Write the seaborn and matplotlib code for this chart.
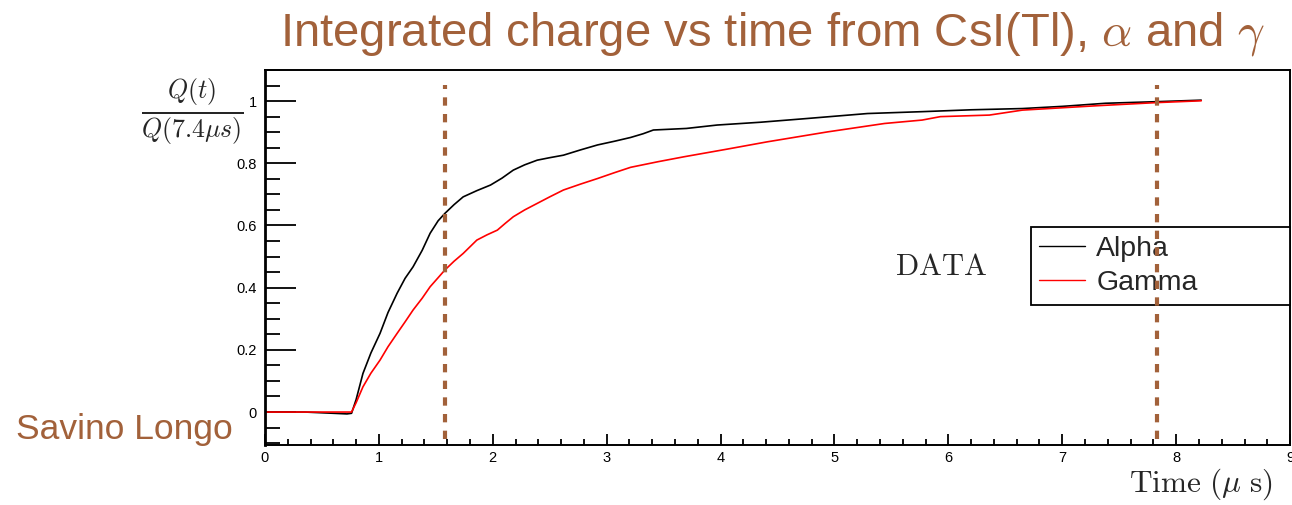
import numpy as np
import pandas as pd
import matplotlib
matplotlib.use("Agg")
import matplotlib.pyplot as plt
from matplotlib.ticker import MultipleLocator
from matplotlib.lines import Line2D
import seaborn as sns

# Integrated charge, normalised to Q(7.4 us), read along each pulse
alpha_t = [0.00, 0.35, 0.60, 0.72, 0.76, 0.80, 0.86, 0.93, 1.01, 1.08, 1.16, 1.23,
           1.30, 1.38, 1.45, 1.52, 1.58, 1.66, 1.74, 1.86, 1.98, 2.08, 2.18, 2.28,
           2.39, 2.50, 2.62, 2.77, 2.92, 3.07, 3.21, 3.32, 3.41, 3.70, 3.97, 4.35,
           4.76, 5.29, 5.77, 6.20, 6.65, 7.00, 7.38, 7.82, 8.22]
alpha_q = [0.000, 0.000, -0.004, -0.006, -0.004, 0.040, 0.124, 0.190, 0.253, 0.320,
           0.382, 0.430, 0.467, 0.520, 0.575, 0.615, 0.639, 0.667, 0.692, 0.712,
           0.730, 0.752, 0.778, 0.795, 0.810, 0.818, 0.826, 0.843, 0.859, 0.871,
           0.883, 0.895, 0.907, 0.912, 0.923, 0.932, 0.944, 0.960, 0.966, 0.972,
           0.976, 0.983, 0.993, 0.998, 1.003]

gamma_t = [0.00, 0.76, 0.80, 0.86, 0.93, 1.01, 1.08, 1.16, 1.23, 1.30, 1.38, 1.45,
           1.52, 1.58, 1.66, 1.74, 1.86, 1.95, 2.04, 2.11, 2.18, 2.28, 2.39, 2.50,
           2.62, 2.77, 2.92, 3.07, 3.21, 3.45, 3.68, 4.05, 4.41, 4.94, 5.44, 5.77,
           5.93, 6.36, 6.65, 7.30, 7.82, 8.22]
gamma_q = [0.000, 0.000, 0.030, 0.081, 0.125, 0.167, 0.210, 0.253, 0.290, 0.328,
           0.366, 0.403, 0.432, 0.457, 0.485, 0.510, 0.553, 0.570, 0.585, 0.607,
           0.628, 0.650, 0.671, 0.692, 0.714, 0.733, 0.751, 0.770, 0.787, 0.805,
           0.821, 0.845, 0.869, 0.901, 0.928, 0.939, 0.950, 0.955, 0.971, 0.985,
           0.995, 1.001]

series_names = ["Alpha", "Gamma"]
series_colors = ["black", "red"]
gate_times = [1.58, 7.835]   # integration-window markers (us)

BROWN = "#a2613a"

df = pd.concat([
    pd.DataFrame({"t": alpha_t, "q": alpha_q, "series": series_names[0]}),
    pd.DataFrame({"t": gamma_t, "q": gamma_q, "series": series_names[1]}),
], ignore_index=True)

sns.set_style("ticks")
plt.rcParams["font.family"] = ["Liberation Sans", "DejaVu Sans"]
plt.rcParams["mathtext.fontset"] = "cm"

fig = plt.figure(figsize=(12.92, 5.05), dpi=100)
ax = fig.add_axes([0.2051, 0.1188, 0.7934, 0.7426])

sns.lineplot(data=df, x="t", y="q", hue="series", hue_order=series_names,
             palette=dict(zip(series_names, series_colors)), estimator=None,
             sort=False, linewidth=1.2, ax=ax, legend=False)

ax.vlines(gate_times, -0.087, 1.051, colors=BROWN, linewidth=3.0,
          linestyles=(0, (2.0, 2.0)), zorder=6)

ax.set_xlim(0, 9)
ax.set_ylim(-0.106, 1.10)
ax.xaxis.set_minor_locator(MultipleLocator(0.2))
ax.yaxis.set_minor_locator(MultipleLocator(0.05))
ax.set_xticks(np.arange(0, 10, 1))
ax.set_xticklabels([str(i) for i in range(10)])
ax.set_yticks([0, 0.2, 0.4, 0.6, 0.8, 1.0])
ax.set_yticklabels(["0", "0.2", "0.4", "0.6", "0.8", "1"])

ax.tick_params(axis="both", which="both", direction="in", top=False, right=False,
               colors="black", labelsize=10.5, width=1.3)
ax.tick_params(axis="y", which="major", length=22, pad=6)
ax.tick_params(axis="y", which="minor", length=11)
ax.tick_params(axis="x", which="major", length=8, pad=4)
ax.tick_params(axis="x", which="minor", length=4)
for s in ax.spines.values():
    s.set_visible(True)
    s.set_linewidth(1.4)
    s.set_color("black")
ax.spines["left"].set_linewidth(2.0)
ax.set_xlabel("")
ax.set_ylabel("")

handles = [Line2D([], [], color=c, linewidth=1.0) for c in series_colors]
leg = ax.legend(handles, series_names, loc="upper left",
                bbox_to_anchor=(0.747, 0.581, 0.253, 0.0), mode="expand",
                borderaxespad=0, fontsize=20.5, frameon=True, fancybox=False,
                framealpha=1, edgecolor="black", handlelength=1.6,
                handletextpad=0.4, borderpad=0.3, labelspacing=0.3)
leg.get_frame().set_linewidth(1.3)
leg.set_zorder(5)

ax.text(5.94, 0.466, r"$\mathrm{DATA}$", fontsize=22, ha="center", va="center")

fig.text(0.598, 0.932, r"Integrated charge vs time from CsI(Tl), $\alpha$ and $\gamma$",
         ha="center", va="center", fontsize=34, color=BROWN)
fig.text(0.012, 0.150, "Savino Longo", ha="left", va="center", fontsize=25.5,
         color=BROWN)
fig.text(0.149, 0.778, r"$\frac{Q(t)}{Q(7.4\mu s)}$", ha="center", va="center",
         fontsize=26.5)
fig.text(0.985, 0.042, r"$\mathrm{Time}\ (\mu\ \mathrm{s})$", ha="right",
         va="center", fontsize=22.5)

fig.savefig("out.png", dpi=100)
